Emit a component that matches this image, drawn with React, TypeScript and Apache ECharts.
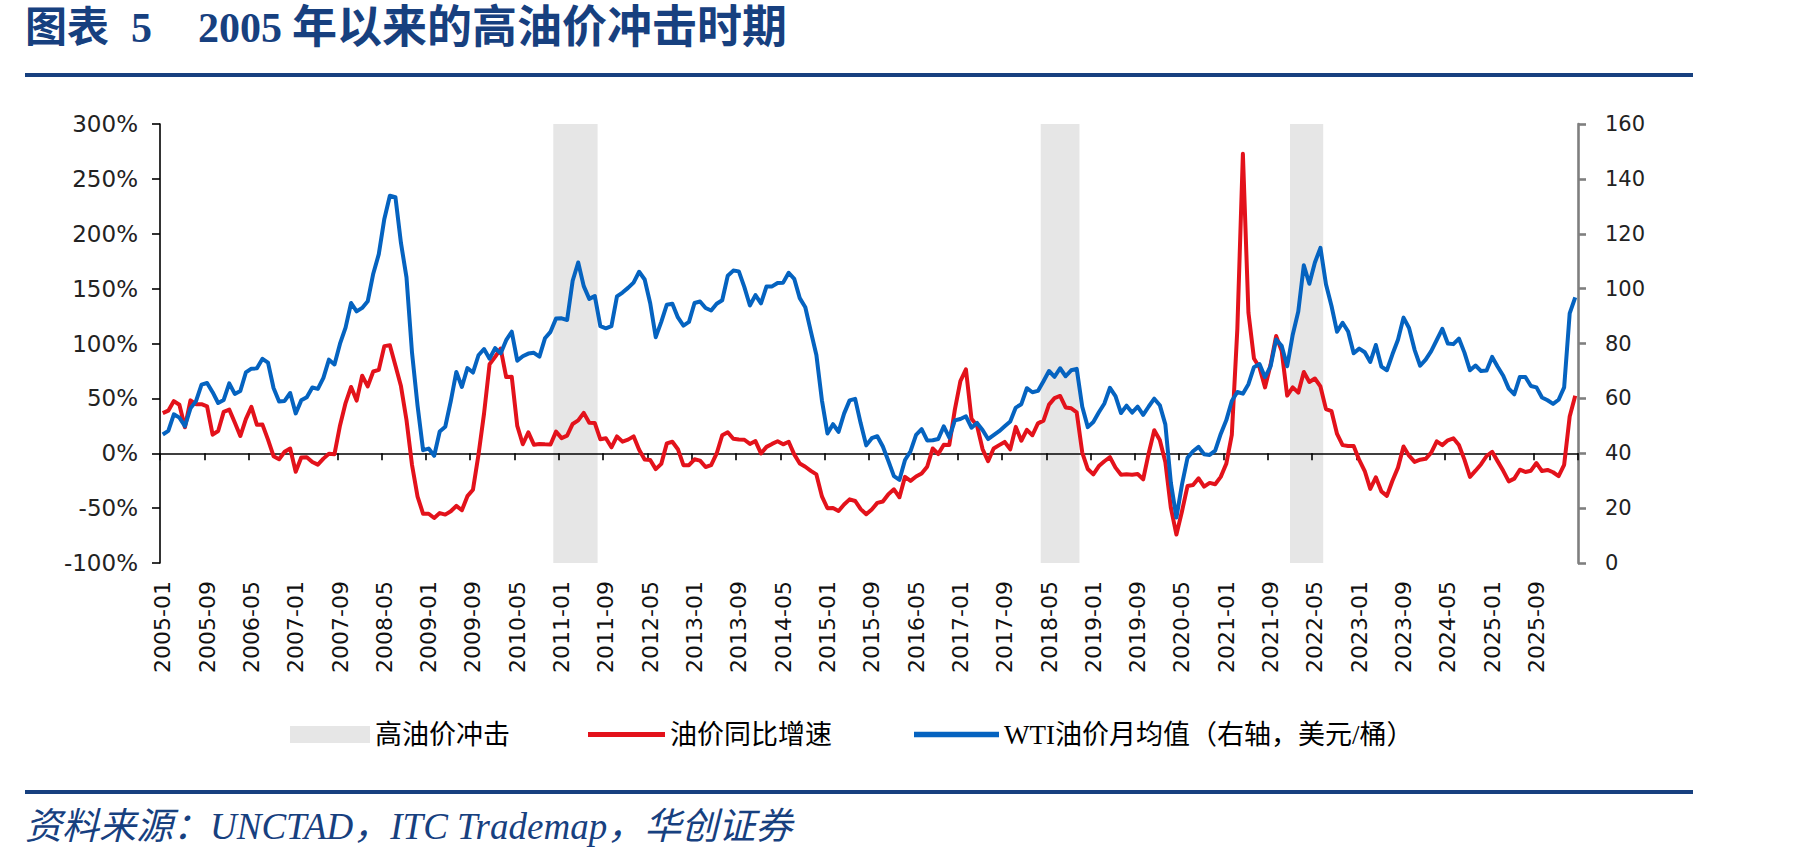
import React, { useEffect, useRef } from 'react';
import * as echarts from 'echarts';

const START_YEAR = 2005;

// WTI monthly average spot price (USD/bbl), one row per year from 2005-01 to 2026-04
const wtiPrice: number[] = [
  46.84, 48.15, 54.19, 52.98, 49.83, 56.35, 59.0, 64.99, 65.59, 62.26, 58.32, 59.41,
  65.49, 61.63, 62.69, 69.44, 70.84, 70.95, 74.41, 73.04, 63.8, 58.89, 59.08, 61.96,
  54.51, 59.28, 60.44, 63.98, 63.45, 67.49, 74.12, 72.36, 79.92, 85.8, 94.77, 91.69,
  92.97, 95.39, 105.45, 112.58, 125.4, 133.88, 133.37, 116.67, 104.11, 76.61, 57.31, 41.12,
  41.71, 39.09, 47.94, 49.65, 59.03, 69.64, 64.15, 71.05, 69.41, 75.72, 77.99, 74.47,
  78.33, 76.39, 81.2, 84.29, 73.74, 75.34, 76.32, 76.6, 75.24, 81.89, 84.25, 89.15,
  89.17, 88.58, 102.86, 109.53, 100.9, 96.26, 97.3, 86.33, 85.52, 86.32, 97.16, 98.56,
  100.27, 102.2, 106.16, 103.32, 94.66, 82.3, 87.9, 94.13, 94.51, 89.49, 86.53, 87.86,
  94.76, 95.31, 92.94, 92.02, 94.51, 95.77, 104.67, 106.57, 106.29, 100.54, 93.86, 97.63,
  94.62, 100.82, 100.8, 102.07, 102.18, 105.79, 103.59, 96.54, 93.21, 84.4, 75.79, 59.29,
  47.22, 50.58, 47.82, 54.45, 59.27, 59.82, 50.9, 42.87, 45.48, 46.22, 42.44, 37.19,
  31.68, 30.32, 37.55, 40.75, 46.71, 48.76, 44.65, 44.72, 45.18, 49.78, 45.66, 51.97,
  52.5, 53.47, 49.33, 51.06, 48.48, 45.18, 46.63, 48.04, 49.82, 51.58, 56.64, 57.88,
  63.7, 62.23, 62.73, 66.25, 69.98, 67.87, 70.98, 68.06, 70.23, 70.75, 56.96, 49.52,
  51.38, 54.95, 58.15, 63.86, 60.83, 54.66, 57.35, 54.81, 56.95, 53.96, 57.03, 59.88,
  57.52, 50.54, 29.21, 16.55, 28.56, 38.31, 40.71, 42.34, 39.63, 39.4, 40.94, 47.02,
  52.0, 59.04, 62.33, 61.72, 65.17, 71.38, 72.49, 67.73, 71.65, 81.48, 79.15, 71.71,
  83.22, 91.64, 108.5, 101.78, 109.55, 114.84, 101.62, 93.67, 84.26, 87.55, 84.37, 76.44,
  78.12, 76.83, 73.28, 79.45, 71.58, 70.25, 76.07, 81.39, 89.43, 85.64, 77.69, 71.9,
  74.15, 77.25, 81.28, 85.35, 80.02, 79.77, 81.8, 76.68, 70.24, 71.99, 69.95, 70.12,
  75.1, 71.53, 68.24, 63.54, 61.5, 67.8, 67.8, 64.5, 64.0, 60.3, 59.3, 58.0,
  59.5, 64.0, 91.0, 96.8,
];

// Year-on-year change of the monthly WTI average (%), same months as above
const yoyGrowth: number[] = [
  36.5, 38.8, 47.5, 44.2, 23.7, 48.2, 44.7, 44.7, 42.8, 16.9, 20.3, 37.7,
  39.8, 28.0, 15.7, 31.1, 42.2, 25.9, 26.1, 12.4, -2.7, -5.4, 1.3, 4.3,
  -16.8, -3.8, -3.6, -7.9, -10.4, -4.9, -0.4, -0.9, 25.3, 45.7, 60.4, 48.0,
  70.6, 60.9, 74.5, 76.0, 97.6, 98.4, 79.9, 61.2, 30.3, -10.7, -39.5, -55.2,
  -55.1, -59.0, -54.5, -55.9, -52.9, -48.0, -51.9, -39.1, -33.3, -1.2, 36.1, 81.1,
  87.8, 95.4, 69.4, 69.8, 24.9, 8.2, 19.0, 7.8, 8.4, 8.1, 8.0, 19.7,
  13.8, 16.0, 26.7, 29.9, 36.8, 27.8, 27.5, 12.7, 13.7, 5.4, 15.3, 10.6,
  12.4, 15.4, 3.2, -5.7, -6.2, -14.5, -9.7, 9.0, 10.5, 3.7, -10.9, -10.9,
  -5.5, -6.7, -12.5, -10.9, -0.2, 16.4, 19.1, 13.2, 12.5, 12.3, 8.5, 11.1,
  -0.1, 5.8, 8.5, 10.9, 8.1, 10.5, -1.0, -9.4, -12.3, -16.1, -19.3, -39.3,
  -50.1, -49.8, -52.6, -46.7, -42.0, -43.5, -50.9, -55.6, -51.2, -45.2, -44.0, -37.3,
  -32.9, -40.1, -21.5, -25.2, -21.2, -18.5, -12.3, 4.3, -0.7, 7.7, 7.6, 39.7,
  65.7, 76.4, 31.4, 25.3, 3.8, -7.3, 4.4, 7.4, 10.3, 3.6, 24.0, 11.4,
  21.3, 16.4, 27.2, 29.7, 44.3, 50.2, 52.2, 41.7, 41.0, 37.2, 0.6, -14.4,
  -19.3, -11.7, -7.3, -3.6, -13.1, -19.5, -19.2, -19.5, -18.9, -23.7, 0.1, 20.9,
  12.0, -8.0, -49.8, -74.1, -53.0, -29.9, -29.0, -22.8, -30.4, -27.0, -28.2, -21.5,
  -9.6, 16.8, 113.4, 272.9, 128.2, 86.3, 78.1, 60.0, 80.8, 106.8, 93.3, 52.5,
  60.0, 55.2, 74.1, 64.9, 68.1, 60.9, 40.2, 38.3, 17.6, 7.4, 6.6, 6.6,
  -6.1, -16.2, -32.5, -21.9, -34.7, -38.8, -25.1, -13.1, 6.1, -2.2, -7.9, -5.9,
  -5.1, 0.5, 10.9, 7.4, 11.8, 13.6, 7.5, -5.8, -21.5, -15.9, -10.0, -2.5,
  1.3, -7.4, -16.0, -25.6, -23.1, -15.0, -17.1, -15.9, -8.9, -16.2, -15.2, -17.3,
  -20.8, -10.5, 33.4, 52.3,
];

// High oil price shock periods (first and last month, inclusive)
const shockPeriods: [string, string][] = [
  ['2010-12', '2011-07'],
  ['2018-04', '2018-10'],
  ['2022-01', '2022-06'],
];

const leftAxisRange = { min: -100, max: 300, interval: 50 };
const rightAxisRange = { min: 0, max: 160, interval: 20 };

const SERIES_NAMES = ['高油价冲击', '油价同比增速', 'WTI油价月均值（右轴，美元/桶）'];

const months: string[] = wtiPrice.map(
  (_, i) => `${START_YEAR + Math.floor(i / 12)}-${String((i % 12) + 1).padStart(2, '0')}`
);

const NAVY = '#17407f';
const RED = '#e3121b';
const BLUE = '#0563c0';
const SHADE = '#e6e6e6';
const LABEL_FONT = "'DejaVu Sans', Verdana, sans-serif";
const CJK_FONT = "'Liberation Serif', 'Noto Sans CJK SC', serif";

function buildOption(): echarts.EChartsCoreOption {
  const legendText = { fontFamily: CJK_FONT, fontSize: 27, color: '#000' };
  const legendTop = 716;
  return {
    animation: false,
    backgroundColor: '#ffffff',
    grid: { left: 160, right: 223, top: 124, bottom: 298, containLabel: false },
    legend: [
      {
        left: 285, top: legendTop, itemWidth: 80, itemHeight: 17, selectedMode: false,
        textStyle: legendText,
        data: [{ name: SERIES_NAMES[0], icon: 'rect' }],
      },
      {
        left: 583, top: legendTop, itemWidth: 77, itemHeight: 17, selectedMode: false,
        textStyle: legendText,
        data: [{ name: SERIES_NAMES[1], icon: 'path://M0,0H80V5H0Z' }],
      },
      {
        left: 909, top: legendTop, itemWidth: 85, itemHeight: 17, selectedMode: false,
        textStyle: legendText,
        data: [{ name: SERIES_NAMES[2], icon: 'path://M0,0H80V5H0Z' }],
      },
    ],
    xAxis: [
      {
        // zero line with month ticks
        type: 'category',
        data: months,
        boundaryGap: true,
        z: 1.5,
        axisLine: { show: true, onZero: true, onZeroAxisIndex: 0, lineStyle: { color: '#000', width: 1.6 } },
        axisTick: { show: true, interval: 7, length: 7, lineStyle: { color: '#000', width: 1.6 } },
        axisLabel: { show: false },
        splitLine: { show: false },
      },
      {
        // month labels along the bottom edge
        type: 'category',
        data: months,
        position: 'bottom',
        boundaryGap: true,
        axisLine: { show: false, onZero: false },
        axisTick: { show: false },
        axisLabel: {
          interval: 7, rotate: 90, margin: 18,
          fontFamily: LABEL_FONT, fontSize: 22, color: '#111',
        },
        splitLine: { show: false },
      },
    ],
    yAxis: [
      {
        type: 'value',
        ...leftAxisRange,
        position: 'left',
        axisLine: { show: true, lineStyle: { color: '#000', width: 1.6 } },
        axisTick: { show: true, length: 8, lineStyle: { color: '#000', width: 1.6 } },
        axisLabel: { formatter: '{value}%', fontFamily: LABEL_FONT, fontSize: 23, margin: 22, color: '#222' },
        splitLine: { show: false },
      },
      {
        type: 'value',
        ...rightAxisRange,
        position: 'right',
        axisLine: { show: true, lineStyle: { color: '#7f7f7f', width: 2.6 } },
        axisTick: { show: true, length: 8, lineStyle: { color: '#7f7f7f', width: 2.6 } },
        axisLabel: { fontFamily: LABEL_FONT, fontSize: 21, margin: 27, color: '#222' },
        splitLine: { show: false },
      },
    ],
    series: [
      {
        name: SERIES_NAMES[0],
        type: 'custom',
        xAxisIndex: 0,
        yAxisIndex: 0,
        z: 1,
        itemStyle: { color: SHADE },
        encode: { x: [0, 1] },
        data: shockPeriods.map(([s, e]) => [months.indexOf(s), months.indexOf(e)]),
        renderItem: (_params: any, api: any) => {
          const band = api.size([1, 0])[0];
          const topLeft = api.coord([api.value(0), leftAxisRange.max]);
          const bottomRight = api.coord([api.value(1), leftAxisRange.min]);
          return {
            type: 'rect',
            shape: {
              x: topLeft[0] - band / 2,
              y: topLeft[1],
              width: bottomRight[0] - topLeft[0] + band,
              height: bottomRight[1] - topLeft[1],
            },
            style: { fill: SHADE },
          };
        },
      },
      {
        name: SERIES_NAMES[1],
        type: 'line',
        xAxisIndex: 0,
        yAxisIndex: 0,
        z: 3,
        data: yoyGrowth,
        showSymbol: false,
        symbol: 'none',
        itemStyle: { color: RED },
        lineStyle: { color: RED, width: 4, join: 'round' },
      },
      {
        name: SERIES_NAMES[2],
        type: 'line',
        xAxisIndex: 0,
        yAxisIndex: 1,
        z: 3,
        data: wtiPrice,
        showSymbol: false,
        symbol: 'none',
        itemStyle: { color: BLUE },
        lineStyle: { color: BLUE, width: 4, join: 'round' },
      },
    ],
    graphic: [
      {
        type: 'text', x: 25, y: 28,
        style: { text: '图表', fill: NAVY, fontFamily: CJK_FONT, fontWeight: 'bold', fontSize: 42, verticalAlign: 'middle' },
      },
      {
        type: 'text', x: 131, y: 28,
        style: { text: '5', fill: NAVY, fontFamily: CJK_FONT, fontWeight: 'bold', fontSize: 42, verticalAlign: 'middle' },
      },
      {
        type: 'text', x: 198, y: 28,
        style: { text: '2005', fill: NAVY, fontFamily: CJK_FONT, fontWeight: 'bold', fontSize: 42, verticalAlign: 'middle' },
      },
      {
        type: 'text', x: 292, y: 28,
        style: { text: '年以来的高油价冲击时期', fill: NAVY, fontFamily: CJK_FONT, fontWeight: 'bold', fontSize: 45, verticalAlign: 'middle' },
      },
      { type: 'rect', shape: { x: 25, y: 73, width: 1668, height: 4 }, style: { fill: NAVY } },
      { type: 'rect', shape: { x: 25, y: 790, width: 1668, height: 4 }, style: { fill: NAVY } },
      {
        type: 'text', x: 25, y: 826,
        style: {
          text: '资料来源：UNCTAD，ITC Trademap，华创证券',
          fill: NAVY, fontFamily: CJK_FONT, fontStyle: 'italic', fontSize: 37, verticalAlign: 'middle',
        },
      },
    ],
  };
}

export default function App() {
  const ref = useRef<HTMLDivElement>(null);
  useEffect(() => {
    if (!ref.current) return;
    const chart = echarts.init(ref.current, null, { renderer: 'svg' });
    chart.setOption(buildOption());
    return () => chart.dispose();
  }, []);
  return (
    <div
      ref={ref}
      style={{ position: 'fixed', left: 0, top: 0, width: 1801, height: 861, background: '#fff' }}
    />
  );
}
